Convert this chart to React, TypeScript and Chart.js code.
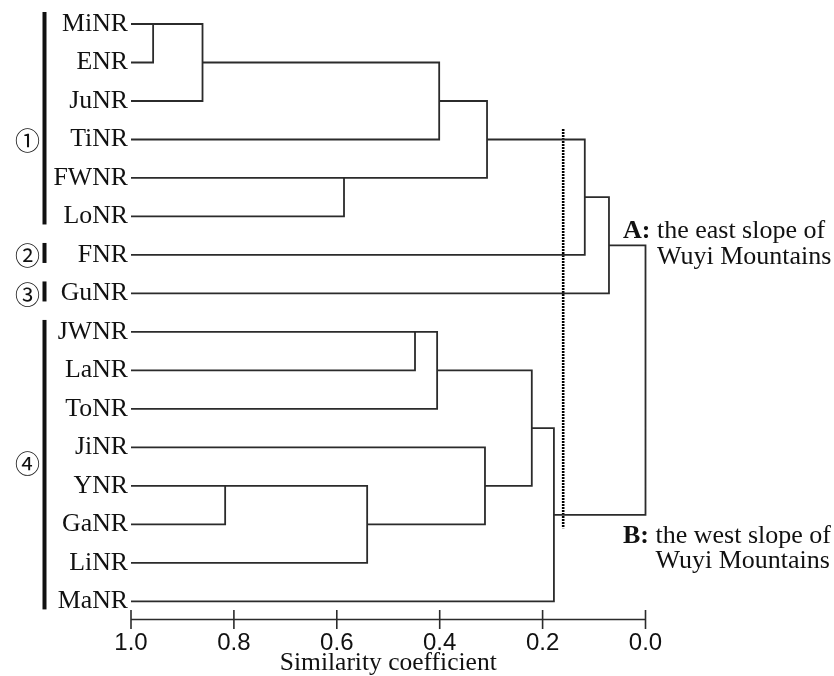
import React, { useEffect, useRef } from 'react';
import { Chart, registerables } from 'chart.js';

Chart.register(...registerables);

// ---- data ----
const leaves = ['MiNR', 'ENR', 'JuNR', 'TiNR', 'FWNR', 'LoNR', 'FNR', 'GuNR', 'JWNR', 'LaNR', 'ToNR', 'JiNR', 'YNR', 'GaNR', 'LiNR', 'MaNR'];
// merge steps: child A, child B ('#k' = result of merge k), similarity coefficient of the join
const mergeA = ['MiNR', '#0', '#1', 'FWNR', '#2', '#4', '#5', 'JWNR', '#7', 'YNR', '#9', 'JiNR', '#8', '#12', '#6'];
const mergeB = ['ENR', 'JuNR', 'TiNR', 'LoNR', '#3', 'FNR', 'GuNR', 'LaNR', 'ToNR', 'GaNR', 'LiNR', '#10', '#11', 'MaNR', '#13'];
const mergeSim = [0.957, 0.861, 0.401, 0.586, 0.308, 0.118, 0.071, 0.448, 0.405, 0.817, 0.541, 0.312, 0.221, 0.178, 0.0];
const xTicks = [1.0, 0.8, 0.6, 0.4, 0.2, 0.0];
const cutValue = 0.16;
const cutSpan = [2.73, 13.1];
const groupLabels = ['①', '②', '③', '④'];
const groupFirst = ['MiNR', 'FNR', 'GuNR', 'JWNR'];
const groupLast = ['LoNR', 'FNR', 'GuNR', 'MaNR'];
const regionKeys = ['A:', 'B:'];
const regionLine1 = [' the east slope of', ' the west slope of'];
const regionLine2 = ['Wuyi Mountains', 'Wuyi Mountains'];
const axisTitle = 'Similarity coefficient';

type P = { x: number; y: number | null };

function buildTree() {
  const pos: Record<string, { x: number; y: number; leaf: boolean }> = {};
  leaves.forEach((l, i) => (pos[l] = { x: 1, y: i, leaf: true }));
  const segs: P[] = [];
  mergeA.forEach((a, k) => {
    const pa = pos[a];
    const pb = pos[mergeB[k]];
    const s = mergeSim[k];
    segs.push({ x: pa.x, y: pa.y }, { x: s, y: pa.y }, { x: s, y: pb.y }, { x: pb.x, y: pb.y }, { x: s, y: null });
    const y = pa.leaf && pb.leaf ? Math.min(pa.y, pb.y) : (pa.y + pb.y) / 2;
    pos['#' + k] = { x: s, y, leaf: false };
  });
  return { segs, pos };
}

const SERIF = '"Liberation Serif", "Times New Roman", serif';
const SANS = '"Liberation Sans", Arial, sans-serif';
const INK = '#111';
const LINE = '#2b2b2b';

export default function App() {
  const ref = useRef<HTMLCanvasElement | null>(null);

  useEffect(() => {
    const canvas = ref.current;
    if (!canvas) return;
    const { segs, pos } = buildTree();
    const rootA = pos['#6'];
    const rootB = pos['#13'];

    const annot = {
      id: 'annot',
      afterDraw(chart: any) {
        const { ctx, chartArea } = chart;
        const xs = chart.scales.x;
        const ys = chart.scales.y;
        ctx.save();
        // axis line and ticks crossing it
        ctx.strokeStyle = LINE;
        ctx.lineWidth = 1.6;
        ctx.beginPath();
        ctx.moveTo(chartArea.left, chartArea.bottom);
        ctx.lineTo(chartArea.right, chartArea.bottom);
        ctx.stroke();
        xTicks.forEach((v) => {
          const px = xs.getPixelForValue(v);
          ctx.beginPath();
          ctx.moveTo(px, chartArea.bottom - 9.5);
          ctx.lineTo(px, chartArea.bottom + 9.5);
          ctx.stroke();
        });
        // group bars and circled numbers
        ctx.fillStyle = INK;
        groupLabels.forEach((g, i) => {
          const a = leaves.indexOf(groupFirst[i]);
          const b = leaves.indexOf(groupLast[i]);
          const top = ys.getPixelForValue(a) - 12;
          const bot = ys.getPixelForValue(b) + 8;
          ctx.fillRect(42.5, top, 4, bot - top);
          let cy;
          if (a === b) cy = ys.getPixelForValue(a);
          else if (i === 0) cy = ys.getPixelForValue(3);
          else cy = ys.getPixelForValue((a + b) / 2 - 0.1);
          ctx.font = '25px "Noto Sans CJK SC", "DejaVu Sans", sans-serif';
          ctx.textAlign = 'center';
          ctx.textBaseline = 'middle';
          ctx.fillText(g, 27.5, cy + 1);
        });
        // region labels
        const x0 = xs.getPixelForValue(0) - 22.5;
        const bases = [ys.getPixelForValue(rootA.y) - 7, ys.getPixelForValue(rootB.y) + 28];
        regionKeys.forEach((k, i) => {
          ctx.textAlign = 'left';
          ctx.textBaseline = 'alphabetic';
          ctx.font = 'bold 26px ' + SERIF;
          ctx.fillText(k, x0, bases[i]);
          const w = ctx.measureText(k).width;
          ctx.font = '26px ' + SERIF;
          ctx.fillText(regionLine1[i], x0 + w, bases[i]);
          const sw = ctx.measureText(' ').width;
          ctx.fillText(regionLine2[i], x0 + w + sw, bases[i] + 25.5);
        });
        ctx.restore();
      },
    };

    const chart = new Chart(canvas, {
      type: 'line',
      data: {
        datasets: [
          {
            data: segs as any,
            borderColor: LINE,
            borderWidth: 1.8,
            pointRadius: 0,
            tension: 0,
            spanGaps: false,
            clip: false as any,
            borderJoinStyle: 'miter',
          },
          {
            data: [
              { x: cutValue, y: cutSpan[0] },
              { x: cutValue, y: cutSpan[1] },
            ] as any,
            borderColor: '#000',
            borderWidth: 2.6,
            borderDash: [2, 1],
            pointRadius: 0,
            clip: false as any,
          },
        ],
      },
      options: {
        responsive: false,
        animation: false,
        events: [],
        layout: { padding: { top: 4.75, right: 188.5, bottom: 0, left: 0 } },
        plugins: { legend: { display: false }, tooltip: { enabled: false } },
        scales: {
          x: {
            type: 'linear',
            reverse: true,
            min: 0,
            max: 1,
            grid: { display: false, drawTicks: false },
            border: { display: false },
            afterBuildTicks: (s: any) => {
              s.ticks = xTicks.map((v) => ({ value: v }));
            },
            ticks: {
              autoSkip: false,
              maxRotation: 0,
              padding: 9,
              color: INK,
              font: { family: SANS, size: 24 },
              callback: (v: any) => Number(v).toFixed(1),
            },
            title: {
              display: true,
              text: axisTitle,
              color: INK,
              font: { family: SERIF, size: 25.5, lineHeight: 1 },
              padding: { top: 0, bottom: 0 },
            },
            afterFit: (s: any) => {
              s.height = 676 - 619.5;
              s.paddingLeft = 0;
              s.paddingRight = 0;
            },
          },
          y: {
            type: 'linear',
            reverse: true,
            min: -0.5,
            max: 15.47,
            grid: { display: false, drawTicks: false },
            border: { display: false },
            afterBuildTicks: (s: any) => {
              s.ticks = leaves.map((_, i) => ({ value: i }));
            },
            ticks: {
              autoSkip: false,
              padding: 3,
              color: INK,
              font: { family: SERIF, size: 25.8 },
              callback: (v: any) => leaves[v as number],
            },
            afterFit: (s: any) => {
              s.width = 131;
              s.paddingTop = 0;
              s.paddingBottom = 0;
            },
          },
        },
      },
      plugins: [annot],
    } as any);
    return () => chart.destroy();
  }, []);

  return (
    <div style={{ position: 'absolute', left: 0, top: 0, width: 834, height: 676, background: '#fff' }}>
      <canvas ref={ref} width={834} height={676} style={{ display: 'block', width: 834, height: 676 }} />
    </div>
  );
}
